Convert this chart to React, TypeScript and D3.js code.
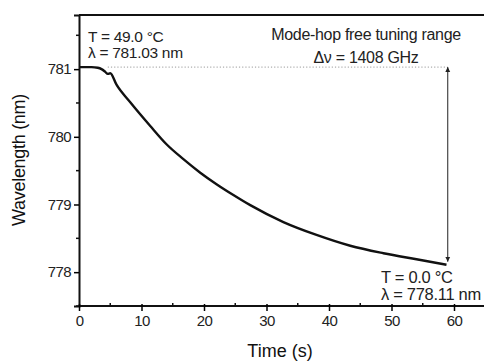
import React, { useRef, useEffect } from "react";
import * as d3 from "d3";

const timeS = [0, 1, 2, 3, 3.6, 4.2, 4.6, 5, 6, 8.2, 11.4, 14, 16.7, 19.4, 22, 24.7, 27.4, 32.7, 38, 43.4, 48.7, 54, 58.8];
const wavelengthNm = [
  781.03, 781.03, 781.03, 781.02, 781.0, 780.96, 780.93, 780.94, 780.77, 780.51, 780.16, 779.89, 779.67,
  779.47, 779.3, 779.14, 778.99, 778.74, 778.55, 778.39, 778.28, 778.19, 778.11,
];
const xTicks = [0, 10, 20, 30, 40, 50, 60];
const yTicks = [778, 779, 780, 781];
const startLabel = ["T = 49.0 °C", "λ = 781.03 nm"];
const endLabel = ["T = 0.0 °C", "λ = 778.11 nm"];
const rangeLabel = ["Mode-hop free tuning range", "Δν = 1408 GHz"];
const rangeStart = 781.03;
const rangeEnd = 778.11;
const arrowTime = 59;

const FONT = "'Liberation Sans', Arial, sans-serif";

const App = () => {
  const ref = useRef<HTMLDivElement>(null);

  useEffect(() => {
    const width = 484;
    const height = 363;
    const container = d3.select(ref.current);
    container.select("svg").remove();

    const svg = container
      .append("svg")
      .attr("width", width)
      .attr("height", height)
      .style("position", "absolute")
      .style("left", "0px")
      .style("top", "0px")
      .style("background", "#fff")
      .style("font-family", FONT);

    const x = d3.scaleLinear().domain([0, 65]).range([79, 485.25]);
    const y = d3.scaleLinear().domain([777.5, 781.8]).range([306, 15]);

    const defs = svg.append("defs");
    ["start", "end"].forEach((k) => {
      defs
        .append("marker")
        .attr("id", "arrow-" + k)
        .attr("viewBox", "0 0 10 10")
        .attr("refX", 10)
        .attr("refY", 5)
        .attr("markerWidth", 5)
        .attr("markerHeight", 7)
        .attr("orient", k === "end" ? "auto" : "auto-start-reverse")
        .append("path")
        .attr("d", "M0,0 L10,5 L0,10 Z")
        .attr("fill", "#222");
    });

    // frame: top border
    svg
      .append("line")
      .attr("x1", x(0))
      .attr("x2", width)
      .attr("y1", y(781.8))
      .attr("y2", y(781.8))
      .attr("stroke", "#111")
      .attr("stroke-width", 2);

    // y axis
    const yAxis = svg
      .append("g")
      .attr("transform", `translate(${x(0)},0)`)
      .call(
        d3
          .axisLeft(y)
          .tickValues(yTicks)
          .tickSize(5)
          .tickPadding(3)
          .tickFormat(d3.format("d"))
      );
    yAxis.select(".domain").attr("stroke-width", 2).attr("stroke", "#111");
    yAxis.selectAll(".tick line").attr("stroke-width", 1.5);
    yAxis
      .selectAll(".tick text")
      .style("font-size", "15px")
      .style("font-family", FONT)
      .attr("letter-spacing", "-0.6")
      .attr("fill", "#222");
    svg
      .append("g")
      .selectAll("line")
      .data([777.5, 778.5, 779.5, 780.5, 781.5])
      .join("line")
      .attr("x1", x(0) - 3)
      .attr("x2", x(0))
      .attr("y1", (d) => y(d))
      .attr("y2", (d) => y(d))
      .attr("stroke", "#111")
      .attr("stroke-width", 1.5);

    // x axis
    const xAxis = svg
      .append("g")
      .attr("transform", `translate(0,${y(777.5)})`)
      .call(
        d3
          .axisBottom(x)
          .tickValues(xTicks)
          .tickSize(5)
          .tickPadding(4)
          .tickFormat(d3.format("d"))
      );
    xAxis.select(".domain").attr("d", `M${x(0)},0H${width}`).attr("stroke-width", 2).attr("stroke", "#111");
    xAxis.selectAll(".tick line").attr("stroke-width", 1.5).attr("y1", -2);
    xAxis
      .selectAll(".tick text")
      .style("font-size", "15px")
      .style("font-family", FONT)
      .attr("letter-spacing", "-0.6")
      .attr("fill", "#222");
    svg
      .append("g")
      .selectAll("line")
      .data([5, 15, 25, 35, 45, 55])
      .join("line")
      .attr("x1", (d) => x(d))
      .attr("x2", (d) => x(d))
      .attr("y1", y(777.5) - 3)
      .attr("y2", y(777.5))
      .attr("stroke", "#111")
      .attr("stroke-width", 1.5);

    // axis titles
    svg
      .append("text")
      .attr("x", 280)
      .attr("y", 357)
      .attr("text-anchor", "middle")
      .style("font-size", "18px")
      .attr("fill", "#111")
      .text("Time (s)");
    svg
      .append("text")
      .attr("transform", `translate(25,${160}) rotate(-90)`)
      .attr("text-anchor", "middle")
      .style("font-size", "18px")
      .attr("letter-spacing", "-0.3")
      .attr("fill", "#111")
      .text("Wavelength (nm)");

    // dotted reference line at the start wavelength
    svg
      .append("line")
      .attr("x1", x(4.6))
      .attr("x2", x(arrowTime))
      .attr("y1", y(rangeStart))
      .attr("y2", y(rangeStart))
      .attr("stroke", "#999")
      .attr("stroke-width", 1)
      .attr("stroke-dasharray", "1.2,2");

    // double arrow for the tuning range
    svg
      .append("line")
      .attr("x1", x(arrowTime))
      .attr("x2", x(arrowTime))
      .attr("y1", y(rangeStart))
      .attr("y2", y(rangeEnd) - 3)
      .attr("stroke", "#222")
      .attr("stroke-width", 1)
      .attr("marker-start", "url(#arrow-start)")
      .attr("marker-end", "url(#arrow-end)");

    // wavelength trace
    const line = d3
      .line<number>()
      .x((d, i) => x(timeS[i]))
      .y((d) => y(d))
      .curve(d3.curveMonotoneX);
    svg
      .append("path")
      .datum(wavelengthNm)
      .attr("d", line)
      .attr("fill", "none")
      .attr("stroke", "#111")
      .attr("stroke-width", 2.4);

    // annotations
    const addLines = (lines, px, py, dy, anchor, size) => {
      svg
        .append("g")
        .selectAll("text")
        .data(lines)
        .join("text")
        .attr("x", px)
        .attr("y", (d, i) => py + i * dy)
        .attr("text-anchor", anchor)
        .attr("letter-spacing", "-0.3")
        .style("font-size", size + "px")
        .attr("fill", "#222")
        .text((d) => d);
    };
    addLines(startLabel, 88, 42, 16, "start", 15.5);
    addLines(rangeLabel, 366, 40, 23, "middle", 16);
    addLines(endLabel, 381, 283, 17, "start", 16.5);
  }, []);

  return <div ref={ref} style={{ width: "484px", height: "363px" }} />;
};

export default App;
